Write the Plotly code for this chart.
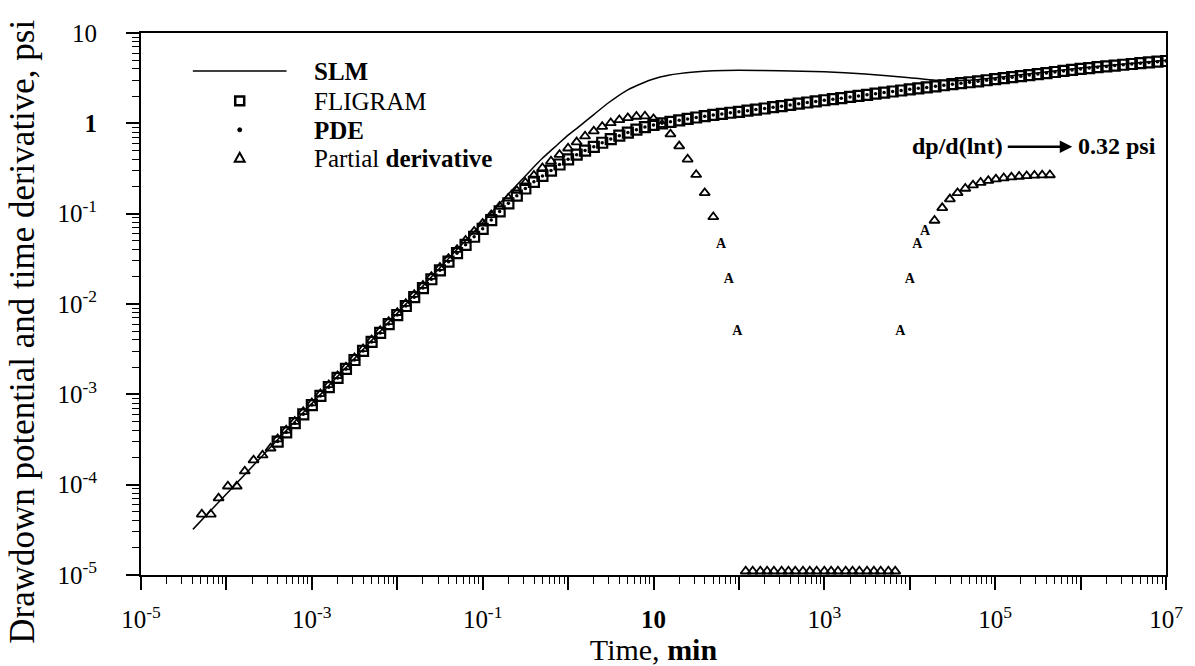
import plotly.graph_objects as go

# ---------------- data ----------------
# SLM (solid line)
slm_time = [4.05e-5, 1e-4, 1e-3, 1e-2, 0.05, 0.1, 0.2, 0.35, 0.5, 0.75, 1.0, 1.4, 2.0, 3.0, 5.0, 7.5,
            10, 15, 20, 30, 50, 100, 300, 1000, 3000, 1e4, 2e4, 5e4, 1e5, 1e6, 1e7]
slm_p = [3.2e-5, 7.9e-5, 7.9e-4, 7.9e-3, 0.04, 0.08, 0.165, 0.29, 0.41, 0.58, 0.74, 0.95, 1.25, 1.7, 2.35, 2.8,
         3.1, 3.4, 3.55, 3.7, 3.82, 3.87, 3.82, 3.72, 3.52, 3.2, 3.0, 3.0, 3.2, 4.1, 5.0]

# FLIGRAM (open squares)
fligram_time = [3.98e-4, 5.01e-4, 6.31e-4, 7.94e-4,
                1.00e-3, 1.26e-3, 1.58e-3, 2.00e-3, 2.51e-3, 3.16e-3, 3.98e-3, 5.01e-3, 6.31e-3, 7.94e-3,
                0.0100, 0.0126, 0.0158, 0.0200, 0.0251, 0.0316, 0.0398, 0.0501, 0.0631, 0.0794,
                0.100, 0.126, 0.158, 0.200, 0.251, 0.316, 0.398, 0.501, 0.631, 0.794,
                1.00, 1.26, 1.58, 2.00, 2.51, 3.16, 3.98, 5.01, 6.31, 7.94,
                10.0, 12.6, 15.8, 20.0, 25.1, 31.6, 39.8, 50.1, 63.1, 79.4,
                100, 126, 158, 200, 251, 316, 398, 501, 631, 794,
                1.00e3, 1.26e3, 1.58e3, 2.00e3, 2.51e3, 3.16e3, 3.98e3, 5.01e3, 6.31e3, 7.94e3,
                1.00e4, 1.26e4, 1.58e4, 2.00e4, 2.51e4, 3.16e4, 3.98e4, 5.01e4, 6.31e4, 7.94e4,
                1.00e5, 1.26e5, 1.58e5, 2.00e5, 2.51e5, 3.16e5, 3.98e5, 5.01e5, 6.31e5, 7.94e5,
                1.00e6, 1.26e6, 1.58e6, 2.00e6, 2.51e6, 3.16e6, 3.98e6, 5.01e6, 6.31e6, 7.94e6,
                1.00e7]
fligram_p = [3.0e-4, 3.8e-4, 4.8e-4, 6.0e-4,
             7.6e-4, 9.6e-4, 1.20e-3, 1.52e-3, 1.91e-3, 2.40e-3, 3.02e-3, 3.80e-3, 4.78e-3, 6.0e-3,
             7.55e-3, 9.5e-3, 0.0119, 0.0150, 0.0188, 0.0236, 0.0294, 0.0365, 0.0452, 0.0555,
             0.068, 0.085, 0.106, 0.13, 0.158, 0.19, 0.225, 0.262, 0.30, 0.35,
             0.40, 0.45, 0.50, 0.55, 0.61, 0.67, 0.73, 0.79, 0.85, 0.91,
             0.96, 1.00, 1.04, 1.08, 1.12, 1.16, 1.20, 1.24, 1.27, 1.31,
             1.34, 1.38, 1.42, 1.46, 1.51, 1.55, 1.60, 1.65, 1.70, 1.75,
             1.80, 1.85, 1.90, 1.96, 2.01, 2.07, 2.13, 2.19, 2.25, 2.31,
             2.38, 2.44, 2.50, 2.57, 2.64, 2.71, 2.78, 2.85, 2.92, 3.00,
             3.08, 3.16, 3.24, 3.33, 3.42, 3.51, 3.60, 3.70, 3.80, 3.90,
             4.00, 4.09, 4.18, 4.27, 4.36, 4.45, 4.54, 4.63, 4.72, 4.81,
             4.90]

# PDE (small dots) - coincides with FLIGRAM
pde_time = list(fligram_time)
pde_p = list(fligram_p)

# Partial derivative (open triangles)
deriv_time = [5.15e-5, 6.56e-5, 8.1e-5, 1.04e-4, 1.32e-4, 1.64e-4, 2.08e-4, 2.65e-4, 3.29e-4,
              3.98e-4, 5.01e-4, 6.31e-4, 7.94e-4,
              1.00e-3, 1.26e-3, 1.58e-3, 2.00e-3, 2.51e-3, 3.16e-3, 3.98e-3, 5.01e-3, 6.31e-3, 7.94e-3,
              0.0100, 0.0126, 0.0158, 0.0200, 0.0251, 0.0316, 0.0398, 0.0501, 0.0631, 0.0794,
              0.100, 0.126, 0.158, 0.200, 0.251, 0.316, 0.398, 0.501, 0.631, 0.794,
              1.00, 1.26, 1.58, 2.00, 2.51, 3.16, 3.98, 5.01, 6.31, 7.94,
              10.0, 12.6, 15.8, 20.0, 25.1, 31.6, 39.8, 50.1,
              1.95e4, 2.40e4, 2.95e4, 3.63e4, 4.47e4, 5.50e4, 6.76e4, 8.32e4,
              1.02e5, 1.26e5, 1.55e5, 1.91e5, 2.34e5, 2.88e5, 3.55e5, 4.37e5]
deriv_p = [4.7e-5, 4.7e-5, 7.1e-5, 9.6e-5, 9.6e-5, 1.41e-4, 1.87e-4, 2.12e-4, 2.53e-4,
           3.2e-4, 4.0e-4, 5.0e-4, 6.4e-4,
           8.0e-4, 1.01e-3, 1.27e-3, 1.6e-3, 2.0e-3, 2.53e-3, 3.18e-3, 4.0e-3, 5.05e-3, 6.35e-3,
           8.0e-3, 0.0101, 0.0127, 0.016, 0.0201, 0.0253, 0.0318, 0.040, 0.0505, 0.0635,
           0.078, 0.097, 0.12, 0.148, 0.18, 0.22, 0.265, 0.32, 0.38, 0.45,
           0.53, 0.62, 0.72, 0.82, 0.92, 1.01, 1.09, 1.15, 1.19, 1.20,
           1.12, 0.97, 0.76, 0.56, 0.40, 0.27, 0.17, 0.092,
           0.084, 0.116, 0.145, 0.17, 0.19, 0.207, 0.221, 0.232,
           0.241, 0.248, 0.254, 0.258, 0.262, 0.265, 0.267, 0.268]

# derivative points printed as "A" glyphs in the reference
deriv_a_time = [61.7, 75.9, 95.5, 7.76e3, 1.0e4, 1.23e4, 1.51e4]
deriv_a_p = [0.045, 0.0187, 0.005, 0.005, 0.0187, 0.045, 0.063]

# derivative points sitting on the lower axis limit
deriv_floor_time = [120, 145, 178, 214, 257, 316, 380, 457, 562, 676, 813, 1000, 1202, 1445,
                    1778, 2138, 2570, 3162, 3802, 4571, 5623, 6761]
deriv_floor_p = [1.1e-5] * len(deriv_floor_time)

# axis ticks
x_tick_vals = [1e-5, 1e-4, 1e-3, 1e-2, 1e-1, 1, 10, 1e2, 1e3, 1e4, 1e5, 1e6, 1e7]
x_tick_text = ["10<sup>-5</sup>", "", "10<sup>-3</sup>", "", "10<sup>-1</sup>", "", "<b>10</b>", "",
               "10<sup>3</sup>", "", "10<sup>5</sup>", "", "10<sup>7</sup>"]
y_tick_vals = [1e-5, 1e-4, 1e-3, 1e-2, 1e-1, 1, 10]
y_tick_text = ["10<sup>-5</sup>", "10<sup>-4</sup>", "10<sup>-3</sup>", "10<sup>-2</sup>",
               "10<sup>-1</sup>", "<b>1</b>", "10"]
minor_x = [m * 10.0 ** e for e in range(-5, 7) for m in range(2, 10)]
minor_y = [m * 10.0 ** e for e in range(-5, 1) for m in range(2, 10)]

FONT = "Liberation Serif, Times New Roman, serif"

fig = go.Figure()
fig.add_trace(go.Scatter(x=slm_time, y=slm_p, mode="lines", name="SLM",
                         line=dict(color="black", width=1.5, shape="spline", smoothing=0.6),
                         showlegend=False))
fig.add_trace(go.Scatter(x=fligram_time, y=fligram_p, mode="markers", name="FLIGRAM",
                         marker=dict(symbol="square-open", size=10, color="black", line=dict(width=2.2)),
                         showlegend=False))
fig.add_trace(go.Scatter(x=pde_time, y=pde_p, mode="markers", name="PDE",
                         marker=dict(symbol="circle", size=3.5, color="black"), showlegend=False))
fig.add_trace(go.Scatter(x=deriv_time + deriv_floor_time, y=deriv_p + deriv_floor_p, mode="markers",
                         name="Partial derivative", cliponaxis=False,
                         marker=dict(symbol="triangle-up-open", size=9, color="black", line=dict(width=1.8)),
                         showlegend=False))
fig.add_trace(go.Scatter(x=deriv_a_time, y=deriv_a_p, mode="text", text=["<b>A</b>"] * len(deriv_a_time),
                         textfont=dict(family=FONT, size=14, color="black"), textposition="middle center",
                         showlegend=False, hoverinfo="skip"))

# ---------------- custom legend (pixel layout converted to paper coords) ----------------
PL, PR, PT, PB = 141, 1169, 33, 576


def px(x):
    return (x - PL) / (PR - PL)


def py(y):
    return (PB - y) / (PB - PT)


shapes = [
    dict(type="line", xref="paper", yref="paper", x0=px(193), x1=px(287), y0=py(71), y1=py(71),
         line=dict(color="black", width=1.5)),
    dict(type="rect", xref="paper", yref="paper", x0=px(235.5), x1=px(244.5), y0=py(96.5), y1=py(105.5),
         line=dict(color="black", width=2.5)),
    dict(type="circle", xref="paper", yref="paper", x0=px(238), x1=px(242), y0=py(128), y1=py(132),
         fillcolor="black", line=dict(color="black", width=1)),
    dict(type="path", xref="paper", yref="paper",
         path="M {},{} L {},{} L {},{} Z".format(px(240), py(153), px(235), py(162), px(245), py(162)),
         line=dict(color="black", width=2)),
]

annotations = [
    dict(text="<b>SLM</b>", x=px(313), y=py(72), xref="paper", yref="paper", xanchor="left",
         yanchor="middle", showarrow=False, font=dict(family=FONT, size=25, color="black")),
    dict(text="FLIGRAM", x=px(313), y=py(102), xref="paper", yref="paper", xanchor="left",
         yanchor="middle", showarrow=False, font=dict(family=FONT, size=25, color="black")),
    dict(text="<b>PDE</b>", x=px(313), y=py(131), xref="paper", yref="paper", xanchor="left",
         yanchor="middle", showarrow=False, font=dict(family=FONT, size=25, color="black")),
    dict(text="Partial <b>derivative</b>", x=px(313), y=py(159), xref="paper", yref="paper",
         xanchor="left", yanchor="middle", showarrow=False, font=dict(family=FONT, size=25, color="black")),
    dict(text="<b>dp/d(lnt)</b>", x=px(912), y=py(146), xref="paper", yref="paper", xanchor="left",
         yanchor="middle", showarrow=False, font=dict(family=FONT, size=24, color="black")),
    dict(text="<b>0.32 psi</b>", x=px(1079), y=py(146), xref="paper", yref="paper", xanchor="left",
         yanchor="middle", showarrow=False, font=dict(family=FONT, size=24, color="black")),
    dict(text="", x=px(1075), y=py(147), xref="paper", yref="paper", ax=-66, ay=0,
         showarrow=True, arrowhead=2, arrowsize=1.0, arrowwidth=2.5, arrowcolor="black"),
    # y-axis title (centred on the figure height, as in the reference)
    dict(text="Drawdown potential and time derivative, psi", x=px(22), y=py(332), xref="paper",
         yref="paper", xanchor="center", yanchor="middle", textangle=-90, showarrow=False,
         font=dict(family=FONT, size=35, color="black")),
]

axis_common = dict(
    type="log", showline=True, linecolor="black", linewidth=2, mirror=True,
    ticks="outside", ticklen=13, tickwidth=1.5, tickcolor="black",
    showgrid=False, zeroline=False,
    tickfont=dict(family=FONT, size=25, color="black"),
)

fig.update_layout(
    width=1195, height=666,
    margin=dict(l=PL, r=1195 - PR, t=PT, b=666 - PB),
    paper_bgcolor="white", plot_bgcolor="white",
    font=dict(family=FONT, color="black"),
    showlegend=False,
    shapes=shapes,
    annotations=annotations,
    xaxis=dict(axis_common, range=[-5, 7], tickmode="array", tickvals=x_tick_vals, ticktext=x_tick_text,
               minor=dict(tickmode="array", tickvals=minor_x, ticks="outside", ticklen=7, tickwidth=1.2,
                          tickcolor="black", showgrid=False),
               ticklabelstandoff=8,
               title=dict(text="Time, <b>min</b>", font=dict(family=FONT, size=30, color="black"), standoff=0)),
    yaxis=dict(axis_common, range=[-5, 1], tickmode="array", tickvals=y_tick_vals, ticktext=y_tick_text,
               minor=dict(tickmode="array", tickvals=minor_y, ticks="outside", ticklen=7, tickwidth=1.2,
                          tickcolor="black", showgrid=False),
               ticklabelstandoff=24),
)

fig.write_html("out.html")
